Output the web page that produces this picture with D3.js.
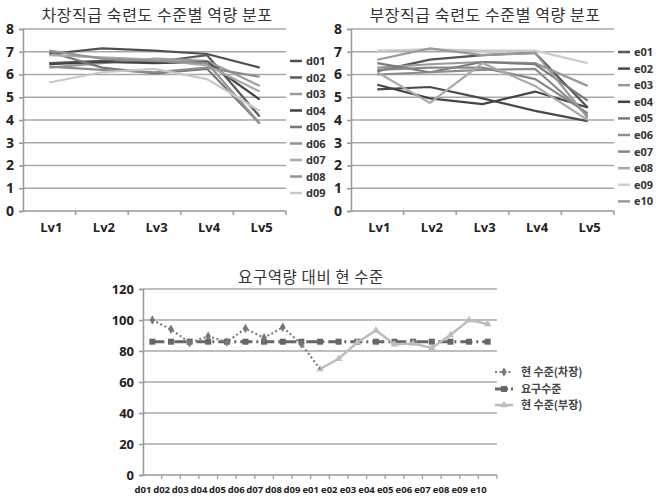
<!DOCTYPE html>
<html><head><meta charset="utf-8">
<script src="https://cdn.jsdelivr.net/npm/d3@7"></script>
<style>
body{margin:0;background:#fff;}
svg{display:block;font-family:"Noto Sans CJK KR","Noto Sans",sans-serif;}
</style></head><body>
<svg id="c" width="656" height="497"></svg>
<script>
const levels = ["Lv1","Lv2","Lv3","Lv4","Lv5"];
const dNames = ["d01","d02","d03","d04","d05","d06","d07","d08","d09"];
const dValues = [
  [6.9, 7.15, 7.05, 6.9, 6.3],
  [6.5, 6.6, 6.55, 6.85, 4.15],
  [6.3, 6.5, 6.7, 6.6, 5.5],
  [6.45, 6.55, 6.5, 6.55, 4.9],
  [7.0, 6.3, 6.05, 6.25, 3.85],
  [6.35, 6.2, 6.1, 6.3, 5.9],
  [6.85, 6.75, 6.65, 6.4, 5.25],
  [7.05, 6.7, 6.6, 6.5, 3.85],
  [5.65, 6.1, 6.25, 5.8, 4.4]
];
const dColors = ["#505050","#5a5a5a","#9a9a9a","#444444","#777777","#8c8c8c","#aaaaaa","#939393","#c8c8c8"];
const eNames = ["e01","e02","e03","e04","e05","e06","e07","e08","e09","e10"];
const eValues = [
  [6.15, 6.65, 6.85, 6.95, 4.55],
  [5.35, 5.45, 4.95, 4.4, 3.95],
  [6.3, 6.45, 6.55, 6.5, 5.5],
  [5.55, 4.95, 4.7, 5.25, 4.55],
  [6.5, 6.1, 6.55, 6.45, 4.85],
  [6.0, 6.1, 6.2, 6.25, 4.2],
  [6.2, 6.3, 6.3, 5.8, 4.3],
  [6.1, 4.75, 6.5, 5.5, 4.0],
  [7.05, 7.1, 7.05, 7.05, 6.5],
  [6.65, 7.15, 6.85, 6.95, 4.1]
];
const eColors = ["#555555","#4a4a4a","#999999","#444444","#7a7a7a","#8c8c8c","#888888","#aaaaaa","#cccccc","#9a9a9a"];
const yTicksTop = [0,1,2,3,4,5,6,7,8];

const cats = ["d01","d02","d03","d04","d05","d06","d07","d08","d09","e01","e02","e03","e04","e05","e06","e07","e08","e09","e10"];
const curChajang = [100, 94, 85.4, 89.5, 85.8, 94.5, 88.5, 95.3, 84.5, 68.4, null, null, null, null, null, null, null, null, null];
const required = [86,86,86,86,86,86,86,86,86,86,86,86,86,86,86,86,86,86,86];
const curBujang = [null, null, null, null, null, null, null, null, null, 68.4, 75, 85.5, 93.3, 84.3, 84.8, 82, 90.3, 100, 97.4];
const yTicksBottom = [0,20,40,60,80,100,120];
const seriesLabels = ["현 수준(차장)","요구수준","현 수준(부장)"];

const svg = d3.select("#c");

function topChart(ox, title, names, values, colors, legendTop, legendStep) {
  const g = svg.append("g").attr("transform", `translate(${ox},0)`);
  const x = d3.scaleBand().domain(levels).range([23, 286]);
  const y = d3.scaleLinear().domain([0, 8]).range([211, 29]);
  g.selectAll(".grid").data(yTicksTop.slice(1)).join("line")
    .attr("x1", 23).attr("x2", 286).attr("y1", d => y(d)).attr("y2", d => y(d))
    .attr("stroke", "#a8a8a8").attr("stroke-width", 1.5);
  const ya = g.append("g").attr("transform", "translate(23,0)")
    .call(d3.axisLeft(y).tickValues(yTicksTop).tickSize(4).tickPadding(5));
  ya.select(".domain").attr("stroke", "#999").attr("stroke-width", 1.5);
  ya.selectAll(".tick line").attr("stroke", "#999").attr("stroke-width", 1.5);
  ya.selectAll("text").attr("font-size", 14).attr("font-weight", "bold").attr("fill", "#222")
    .attr("font-family", "'Open Sans','DejaVu Sans',sans-serif");
  g.append("line").attr("x1", 23).attr("x2", 286).attr("y1", 211).attr("y2", 211)
    .attr("stroke", "#999").attr("stroke-width", 1.5);
  const bounds = levels.map(l => x(l) + x.bandwidth());
  g.selectAll(".xt").data(bounds).join("line")
    .attr("x1", d => d).attr("x2", d => d).attr("y1", 211).attr("y2", 215)
    .attr("stroke", "#999").attr("stroke-width", 1.5);
  g.selectAll(".xl").data(levels).join("text")
    .attr("x", d => x(d) + x.bandwidth() / 2 + 2).attr("y", 232)
    .attr("text-anchor", "middle").attr("font-size", 13).attr("font-weight", "bold").attr("fill", "#222")
    .attr("font-family", "'Open Sans','DejaVu Sans',sans-serif")
    .text(d => d);
  const line = d3.line().x((d, i) => x(levels[i]) + x.bandwidth() / 2).y(d => y(d));
  g.selectAll(".ser").data(values).join("path")
    .attr("d", d => line(d)).attr("fill", "none")
    .attr("stroke", (d, i) => colors[i]).attr("stroke-width", 2.2);
  g.append("text").attr("x", 157).attr("y", 21).attr("text-anchor", "middle")
    .attr("font-size", 16).attr("fill", "#333").attr("letter-spacing", 0.6).text(title);
  const lg = g.selectAll(".lg").data(names).join("g")
    .attr("transform", (d, i) => `translate(290,${legendTop + i * legendStep})`);
  lg.append("line").attr("x1", 0).attr("x2", 12).attr("y1", 0).attr("y2", 0)
    .attr("stroke", (d, i) => colors[i]).attr("stroke-width", 2.5);
  lg.append("text").attr("x", 16).attr("y", 4).attr("font-size", 11).attr("font-weight", "bold")
    .attr("fill", "#333").attr("font-family", "'Open Sans','DejaVu Sans',sans-serif").text(d => d);
}

topChart(0, "차장직급 숙련도 수준별 역량 분포", dNames, dValues, dColors, 61, 16.5);
topChart(328, "부장직급 숙련도 수준별 역량 분포", eNames, eValues, eColors, 52, 16.6);

{
  const g = svg.append("g");
  const x = d3.scaleBand().domain(cats).range([143, 497]);
  const y = d3.scaleLinear().domain([0, 120]).range([475, 289]);
  g.selectAll(".grid").data(yTicksBottom.slice(1)).join("line")
    .attr("x1", 143).attr("x2", 497).attr("y1", d => y(d)).attr("y2", d => y(d))
    .attr("stroke", "#a8a8a8").attr("stroke-width", 1.5);
  const ya = g.append("g").attr("transform", "translate(143,0)")
    .call(d3.axisLeft(y).tickValues(yTicksBottom).tickSize(4).tickPadding(5));
  ya.select(".domain").attr("stroke", "#999").attr("stroke-width", 1.5);
  ya.selectAll(".tick line").attr("stroke", "#999").attr("stroke-width", 1.5);
  ya.selectAll("text").attr("font-size", 13).attr("font-weight", "bold").attr("fill", "#222")
    .attr("font-family", "'Open Sans','DejaVu Sans',sans-serif");
  g.append("line").attr("x1", 143).attr("x2", 497).attr("y1", 475).attr("y2", 475)
    .attr("stroke", "#999").attr("stroke-width", 1.5);
  g.selectAll(".xt").data(cats).join("line")
    .attr("x1", d => x(d) + x.bandwidth()).attr("x2", d => x(d) + x.bandwidth())
    .attr("y1", 475).attr("y2", 479).attr("stroke", "#999").attr("stroke-width", 1.2);
  g.selectAll(".xl").data(cats).join("text")
    .attr("x", d => x(d)).attr("y", 493).attr("text-anchor", "middle")
    .attr("font-size", 9.5).attr("font-weight", "bold").attr("fill", "#222")
    .attr("font-family", "'Open Sans','DejaVu Sans',sans-serif").text(d => d);
  const cx = i => x(cats[i]) + x.bandwidth() / 2;
  const line = d3.line().defined(d => d != null).x((d, i) => cx(i)).y(d => y(d));
  g.append("path").attr("d", line(required)).attr("fill", "none").attr("stroke", "#666")
    .attr("stroke-width", 3).attr("stroke-dasharray", "12,4,2,4");
  g.selectAll(".rq").data(required).join("rect")
    .attr("x", (d, i) => cx(i) - 3).attr("y", d => y(d) - 3).attr("width", 6).attr("height", 6)
    .attr("fill", "#666");
  g.append("path").attr("d", line(curBujang)).attr("fill", "none").attr("stroke", "#bdbdbd").attr("stroke-width", 2.5);
  const tri = d3.symbol().type(d3.symbolTriangle).size(24);
  g.selectAll(".bj").data(curBujang.map((v, i) => [v, i]).filter(d => d[0] != null)).join("path")
    .attr("d", tri).attr("transform", d => `translate(${cx(d[1])},${y(d[0])})`).attr("fill", "#bdbdbd");
  g.append("path").attr("d", line(curChajang)).attr("fill", "none").attr("stroke", "#777")
    .attr("stroke-width", 2).attr("stroke-dasharray", "2,2.5");
  const dia = d3.symbol().type(d3.symbolDiamond).size(26);
  g.selectAll(".cj").data(curChajang.map((v, i) => [v, i]).filter(d => d[0] != null && d[1] < 9)).join("path")
    .attr("d", dia).attr("transform", d => `translate(${cx(d[1])},${y(d[0])})`).attr("fill", "#777");
  g.append("text").attr("x", 311).attr("y", 283).attr("text-anchor", "middle")
    .attr("font-size", 15.5).attr("fill", "#333").attr("letter-spacing", 0.6).text("요구역량 대비 현 수준");
  const ly = [372, 389, 405];
  const L = g.append("g");
  L.append("line").attr("x1", 495).attr("x2", 513).attr("y1", ly[0]).attr("y2", ly[0])
    .attr("stroke", "#777").attr("stroke-width", 2).attr("stroke-dasharray", "2,2.5");
  L.append("path").attr("d", dia).attr("transform", `translate(504,${ly[0]})`).attr("fill", "#777");
  L.append("line").attr("x1", 495).attr("x2", 513).attr("y1", ly[1]).attr("y2", ly[1])
    .attr("stroke", "#666").attr("stroke-width", 3).attr("stroke-dasharray", "8,3,2,3");
  L.append("rect").attr("x", 501).attr("y", ly[1] - 3).attr("width", 6).attr("height", 6).attr("fill", "#666");
  L.append("line").attr("x1", 495).attr("x2", 513).attr("y1", ly[2]).attr("y2", ly[2])
    .attr("stroke", "#bdbdbd").attr("stroke-width", 2.5);
  L.append("path").attr("d", tri).attr("transform", `translate(504,${ly[2]})`).attr("fill", "#bdbdbd");
  L.selectAll(".lt").data(seriesLabels).join("text")
    .attr("x", 521).attr("y", (d, i) => ly[i] + 4).attr("font-size", 11).attr("font-weight", "bold")
    .attr("fill", "#444").text(d => d);
}
</script>
</body></html>
